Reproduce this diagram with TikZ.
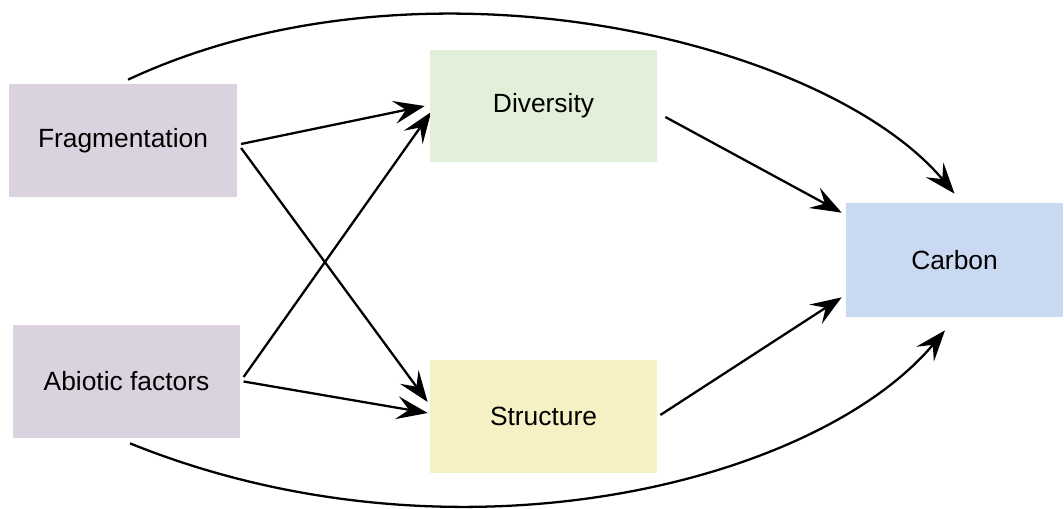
\documentclass[tikz,border=0pt]{standalone}
\usepackage{xcolor}
\usepackage{fontspec}
\setmainfont{Liberation Sans}
\usepackage{tikz}
\usetikzlibrary{arrows.meta}
\usetikzlibrary{positioning}
\pgfdeclarelayer{edgelayer}
\pgfdeclarelayer{nodelayer}
\pgfsetlayers{edgelayer,nodelayer,main}
\definecolor{driverfill}{RGB}{218,210,222}
\definecolor{divfill}{RGB}{226,240,217}
\definecolor{structfill}{RGB}{245,241,196}
\definecolor{carbonfill}{RGB}{201,217,241}
\tikzstyle{none}=[inner sep=0mm]
\tikzstyle{box}=[shape=rectangle,draw=none,inner sep=0pt,font=\fontsize{15}{18}\selectfont]
\tikzstyle{driver}=[box,fill=driverfill,minimum width=4.55cm,minimum height=2.26cm]
\tikzstyle{mid}=[box,minimum width=4.54cm,minimum height=2.25cm]
\tikzstyle{sink}=[box,fill=carbonfill,minimum width=4.34cm,minimum height=2.28cm]
\tikzstyle{link}=[line width=1.3pt,-{Stealth[length=6.2mm,width=4.6mm,inset=2.4mm]}]

\begin{document}
\begin{tikzpicture}
	\useasboundingbox (0, 0) rectangle (21.28, 10.16);
	\begin{pgfonlayer}{nodelayer}
		\node [style=driver] (frag) at (2.46, 7.35) {Fragmentation};
		\node [style=driver] (abio) at (2.53, 2.53) {Abiotic factors};
		\node [style=mid, fill=divfill] (div) at (10.87, 8.04) {Diversity};
		\node [style=mid, fill=structfill] (struct) at (10.87, 1.83) {Structure};
		\node [style=sink] (carbon) at (19.09, 4.96) {Carbon};
	\end{pgfonlayer}
	\begin{pgfonlayer}{edgelayer}
		\draw [style=link] ([shift={(0.08,-0.07)}]frag.east) to ([xshift=-0.1cm]div.west);
		\draw [style=link] ([shift={(0.08,-0.15)}]frag.east) to ([shift={(-0.04,0.29)}]struct.west);
		\draw [style=link] ([shift={(0.06,0.09)}]abio.east) to ([shift={(0.03,-0.12)}]div.west);
		\draw [style=link] ([shift={(0.06,0)}]abio.east) to ([shift={(-0.04,0.07)}]struct.west);
		\draw [style=link] ([shift={(0.16,-0.22)}]div.east) to ([shift={(-0.08,-0.2)}]carbon.north west);
		\draw [style=link] ([shift={(0.06,0.03)}]struct.east) to ([shift={(-0.08,0.4)}]carbon.south west);
		\draw [style=link] ([shift={(0.1,0.08)}]frag.north) .. controls +(25:6.5cm) and +(130:4cm) .. ([yshift=0.18cm]carbon.north);
		\draw [style=link] ([shift={(0.07,-0.1)}]abio.south) .. controls +(-22:7cm) and +(230:4cm) .. ([shift={(-0.19,-0.26)}]carbon.south);
	\end{pgfonlayer}
\end{tikzpicture}
\end{document}
